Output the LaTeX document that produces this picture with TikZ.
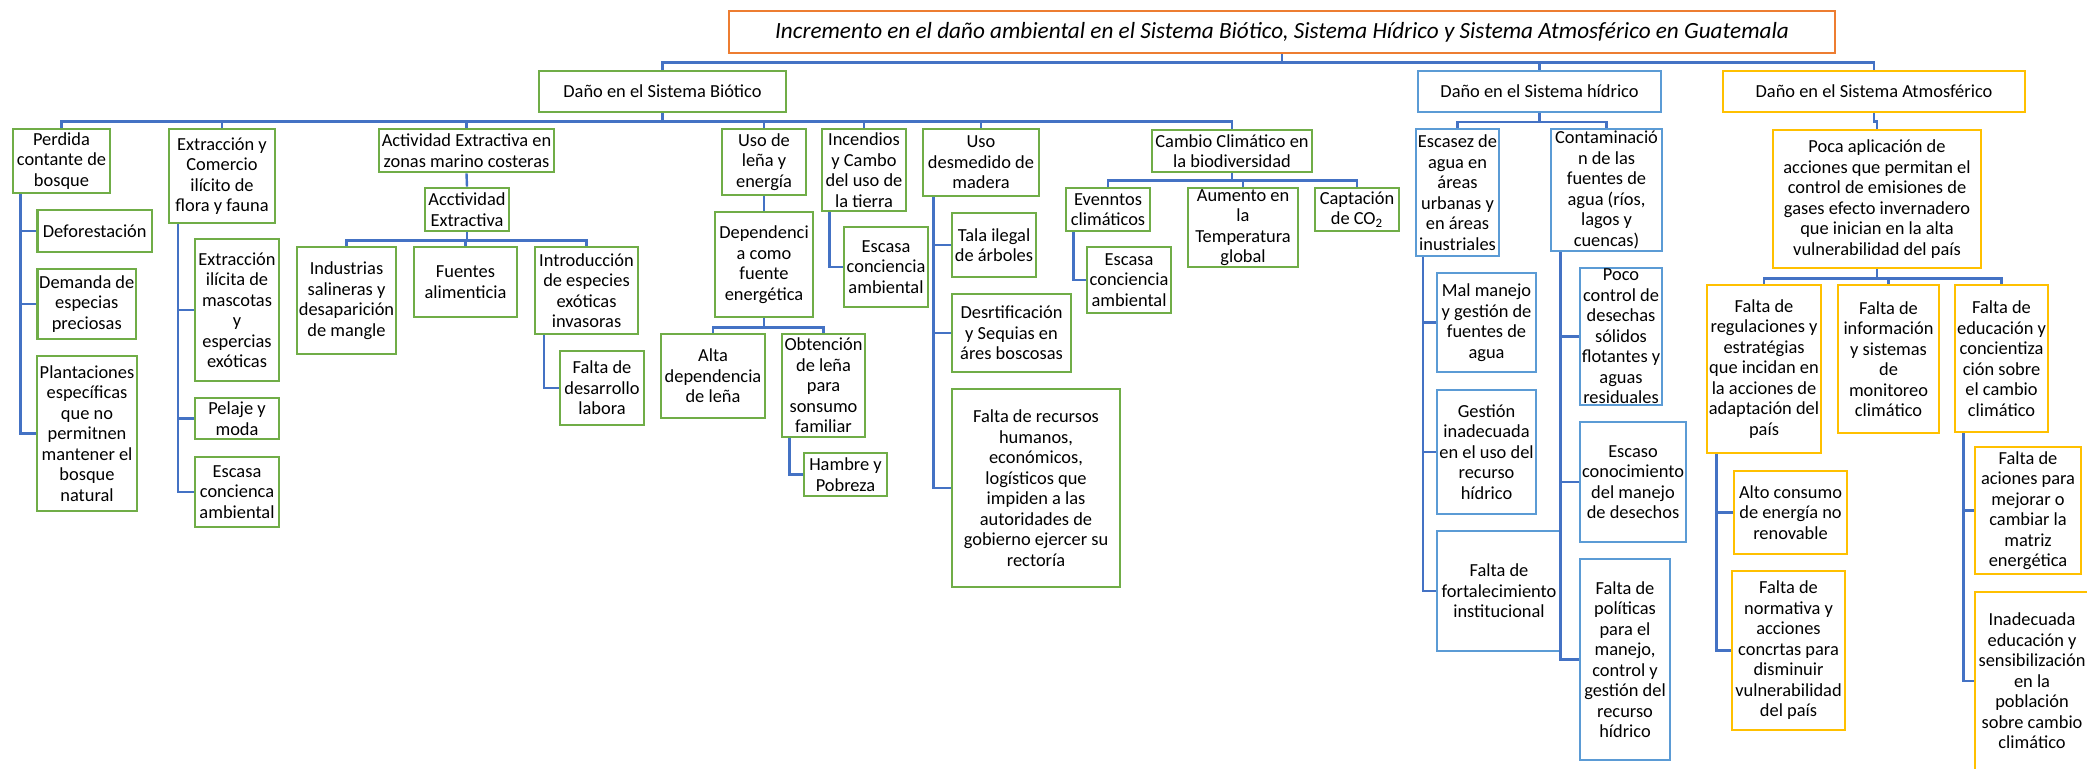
\documentclass[tikz,border=0pt]{standalone}
\usepackage{fontspec}
\setmainfont{Carlito}
\definecolor{verde}{HTML}{70AD47}
\definecolor{celeste}{HTML}{5B9BD5}
\definecolor{oro}{HTML}{FFC000}
\definecolor{naranja}{HTML}{ED7D31}
\definecolor{azulosc}{HTML}{4472C4}
\begin{document}
\begin{tikzpicture}[x=0.5pt,y=-0.5pt,
 caja/.style={draw,line width=1.35pt,align=center,inner sep=0pt,font=\fontsize{9.2}{10.25}\selectfont},
 verde/.style={caja,draw=verde},
 azul/.style={caja,draw=celeste},
 oro/.style={caja,draw=oro},
 linea/.style={draw=azulosc,line width=1.2pt}]
\useasboundingbox (0,0) rectangle (2087,769);
% Titulo y las tres ramas
\node[caja,draw=naranja,minimum width=553pt,minimum height=21pt,font=\fontsize{11.6}{13}\selectfont\itshape] (tit) at (1282,32)
 {Incremento en el daño ambiental en el Sistema Biótico, Sistema Hídrico y Sistema Atmosférico en Guatemala};
\node[verde,minimum width=123.5pt,minimum height=20.5pt] (bio) at (662.5,91.5) {Daño en el Sistema Biótico};
\node[azul,minimum width=121.5pt,minimum height=20.5pt] (hid) at (1539.5,91.5) {Daño en el Sistema hídrico};
\node[oro,minimum width=151pt,minimum height=20.5pt] (atm) at (1874,91.5) {Daño en el Sistema Atmosférico};
\foreach \n in {bio,hid,atm}
\draw[linea] (tit.south) -- ++(0,8) -| (\n.north);
% Sistema Biotico
\node[verde,minimum width=48.5pt,minimum height=32pt] (per) at (61.5,161) {Perdida\\contante de\\bosque};
\node[verde,minimum width=53pt,minimum height=47pt] (ext) at (222,176) {Extracción y\\Comercio\\ilícito de\\flora y fauna};
\node[verde,minimum width=87.5pt,minimum height=21.5pt] (act) at (466.5,150.5) {Actividad Extractiva en\\zonas marino costeras};
\node[verde,minimum width=42pt,minimum height=33pt] (len) at (764,162) {Uso de\\leña y\\energía};
\node[verde,minimum width=42pt,minimum height=41pt] (inc) at (864,170) {Incendios\\y Cambo\\del uso de\\la tierra};
\node[verde,minimum width=58pt,minimum height=33.5pt] (mad) at (981,162.5) {Uso\\desmedido de\\madera};
\node[verde,minimum width=80pt,minimum height=21pt] (cam) at (1232,151) {Cambio Climático en\\la biodiversidad};
\foreach \n in {per,ext,act,len,inc,mad,cam}
\draw[linea] (bio.south) -- ++(0,8) -| (\n.north);
\node[verde,minimum width=57.25pt,minimum height=21pt] (def) at (94.75,231) {Deforestación};
\node[verde,minimum width=49.25pt,minimum height=35pt] (dem) at (86.75,304) {Demanda de\\especias\\preciosas};
\node[verde,minimum width=50pt,minimum height=77.5pt] (pla) at (87,433.5) {Plantaciones\\específicas\\que no\\permitnen\\mantener el\\bosque\\natural};
\foreach \n in {def,dem,pla}
\draw[linea] ([xshift=4.5pt]per.south west) |- (\n.west);
\node[verde,minimum width=42pt,minimum height=71pt] (mas) at (237,310) {Extracción\\ilícita de\\mascotas\\y\\espercias\\exóticas};
\node[verde,minimum width=42pt,minimum height=20.5pt] (pel) at (237,418.5) {Pelaje y\\moda};
\node[verde,minimum width=42pt,minimum height=35pt] (escA) at (237,492) {Escasa\\concienca\\ambiental};
\foreach \n in {mas,pel,escA}
\draw[linea] ([xshift=5.25pt]ext.south west) |- (\n.west);
\node[verde,minimum width=42pt,minimum height=21.5pt] (acc) at (467,209.5) {Acctividad\\Extractiva};
\draw[linea] (act.south) -- (acc.north);
\node[verde,minimum width=49.5pt,minimum height=53.5pt] (ind) at (346.5,300.5) {Industrias\\salineras y\\desaparición\\de mangle};
\node[verde,minimum width=51.5pt,minimum height=35pt] (fue) at (465.5,282) {Fuentes\\alimenticia};
\node[verde,minimum width=51.5pt,minimum height=43.5pt] (int) at (586.5,290.5) {Introducción\\de especies\\exóticas\\invasoras};
\foreach \n in {ind,fue,int}
\draw[linea] (acc.south) -- ++(0,8) -| (\n.north);
\node[verde,minimum width=42pt,minimum height=37pt] (lab) at (602,388) {Falta de\\desarrollo\\labora};
\draw[linea] ([xshift=5.25pt]int.south west) |- (lab.west);
\node[verde,minimum width=49pt,minimum height=52.5pt] (dep) at (764,264.5) {Dependenci\\a como\\fuente\\energética};
\draw[linea] (len.south) -- (dep.north);
\node[verde,minimum width=52pt,minimum height=42pt] (alt) at (713,376) {Alta\\dependencia\\de leña};
\node[verde,minimum width=41.5pt,minimum height=51.5pt] (obt) at (823.5,385.5) {Obtención\\de leña\\para\\sonsumo\\familiar};
\foreach \n in {alt,obt}
\draw[linea] (dep.south) -- ++(0,9) -| (\n.north);
\node[verde,minimum width=41.5pt,minimum height=21.5pt] (ham) at (845.5,474.5) {Hambre y\\Pobreza};
\draw[linea] ([xshift=4.5pt]obt.south west) |- (ham.west);
\node[verde,minimum width=42pt,minimum height=40pt] (escB) at (886,267) {Escasa\\conciencia\\ambiental};
\draw[linea] ([xshift=4.5pt]inc.south west) |- (escB.west);
\node[verde,minimum width=42pt,minimum height=32pt] (tal) at (994,245) {Tala ilegal\\de árboles};
\node[verde,minimum width=59.5pt,minimum height=39pt] (des) at (1011.5,333) {Desrtificación\\y Sequias en\\áres boscosas};
\node[verde,minimum width=84pt,minimum height=99pt] (rec) at (1036,488) {Falta de recursos\\humanos,\\económicos,\\logísticos que\\impiden a las\\autoridades de\\gobierno ejercer su\\rectoría};
\foreach \n in {tal,des,rec}
\draw[linea] ([xshift=6pt]mad.south west) |- (\n.west);
\node[verde,minimum width=42pt,minimum height=21.5pt] (eve) at (1108,209.5) {Evenntos\\climáticos};
\node[verde,minimum width=55pt,minimum height=39.5pt] (aum) at (1243,227.5) {Aumento en\\la\\Temperatura\\global};
\node[verde,minimum width=42pt,minimum height=21.5pt] (cap) at (1357,209.5) {Captación\\de CO\textsubscript{2}};
\foreach \n in {eve,aum,cap}
\draw[linea] (cam.south) -- ++(0,7) -| (\n.north);
\node[verde,minimum width=42pt,minimum height=33pt] (escC) at (1129,280) {Escasa\\conciencia\\ambiental};
\draw[linea] ([xshift=4.5pt]eve.south west) |- (escC.west);
% Sistema hidrico
\node[azul,minimum width=41.5pt,minimum height=63.5pt] (esz) at (1457.5,192.5) {Escasez de\\agua en\\áreas\\urbanas y\\en áreas\\inustriales};
\node[azul,minimum width=55.5pt,minimum height=61pt] (con) at (1606.5,190) {Contaminació\\n de las\\fuentes de\\agua (ríos,\\lagos y\\cuencas)};
\foreach \n in {esz,con}
\draw[linea] (hid.south) -- ++(0,8.5) -| (\n.north);
\node[azul,minimum width=49.5pt,minimum height=49.5pt] (mal) at (1486.5,322.5) {Mal manejo\\y gestión de\\fuentes de\\agua};
\node[azul,minimum width=49.5pt,minimum height=62pt] (ges) at (1486.5,452) {Gestión\\inadecuada\\en el uso del\\recurso\\hídrico};
\node[azul,minimum width=62pt,minimum height=60pt] (for) at (1499,591) {Falta de\\fortalecimiento\\institucional};
\foreach \n in {mal,ges,for}
\draw[linea] ([xshift=4.25pt]esz.south west) |- (\n.west);
\node[azul,minimum width=41pt,minimum height=68.5pt] (poc) at (1621,336.5) {Poco\\control de\\desechas\\sólidos\\flotantes y\\aguas\\residuales};
\node[azul,minimum width=53pt,minimum height=60pt] (eco) at (1633,482) {Escaso\\conocimiento\\del manejo\\de desechos};
\node[azul,minimum width=45pt,minimum height=100.5pt] (pol) at (1625,659.5) {Falta de\\políticas\\para el\\manejo,\\control y\\gestión del\\recurso\\hídrico};
\foreach \n in {poc,eco,pol}
\draw[linea] ([xshift=5.5pt]con.south west) |- (\n.west);
% Sistema atmosferico
\node[oro,minimum width=104pt,minimum height=69pt] (poca) at (1877,199) {Poca aplicación de\\acciones que permitan el\\control de emisiones de\\gases efecto invernadero\\que inician en la alta\\vulnerabilidad del país};
\draw[linea] (atm.south) -- ++(0,8) -| (poca.north);
\node[oro,minimum width=57pt,minimum height=84pt] (reg) at (1764,369) {Falta de\\regulaciones y\\estratégias\\que incidan en\\la acciones de\\adaptación del\\país};
\node[oro,minimum width=50.5pt,minimum height=74pt] (inf) at (1888.5,359) {Falta de\\información\\y sistemas\\de\\monitoreo\\climático};
\node[oro,minimum width=46.5pt,minimum height=73.5pt] (edu) at (2001.5,358.5) {Falta de\\educación y\\concientiza\\ción sobre\\el cambio\\climático};
\foreach \n in {reg,inf,edu}
\draw[linea] (poca.south) -- ++(0,9) -| (\n.north);
\node[oro,minimum width=56.5pt,minimum height=41.5pt] (alc) at (1790.5,512.5) {Alto consumo\\de energía no\\renovable};
\node[oro,minimum width=56.5pt,minimum height=79.5pt] (nor) at (1788.5,650.5) {Falta de\\normativa y\\acciones\\concrtas para\\disminuir\\vulnerabilidad\\del país};
\foreach \n in {alc,nor}
\draw[linea] ([xshift=5.5pt]reg.south west) |- (\n.west);
\node[oro,minimum width=53pt,minimum height=63.5pt] (aci) at (2028,510.5) {Falta de\\aciones para\\mejorar o\\cambiar la\\matriz\\energética};
\node[oro,minimum width=57pt,minimum height=89pt] (ina) at (2032,681) {Inadecuada\\educación y\\sensibilización\\en la\\población\\sobre cambio\\climático};
\foreach \n in {aci,ina}
\draw[linea] ([xshift=5pt]edu.south west) |- (\n.west);
\end{tikzpicture}
\end{document}
